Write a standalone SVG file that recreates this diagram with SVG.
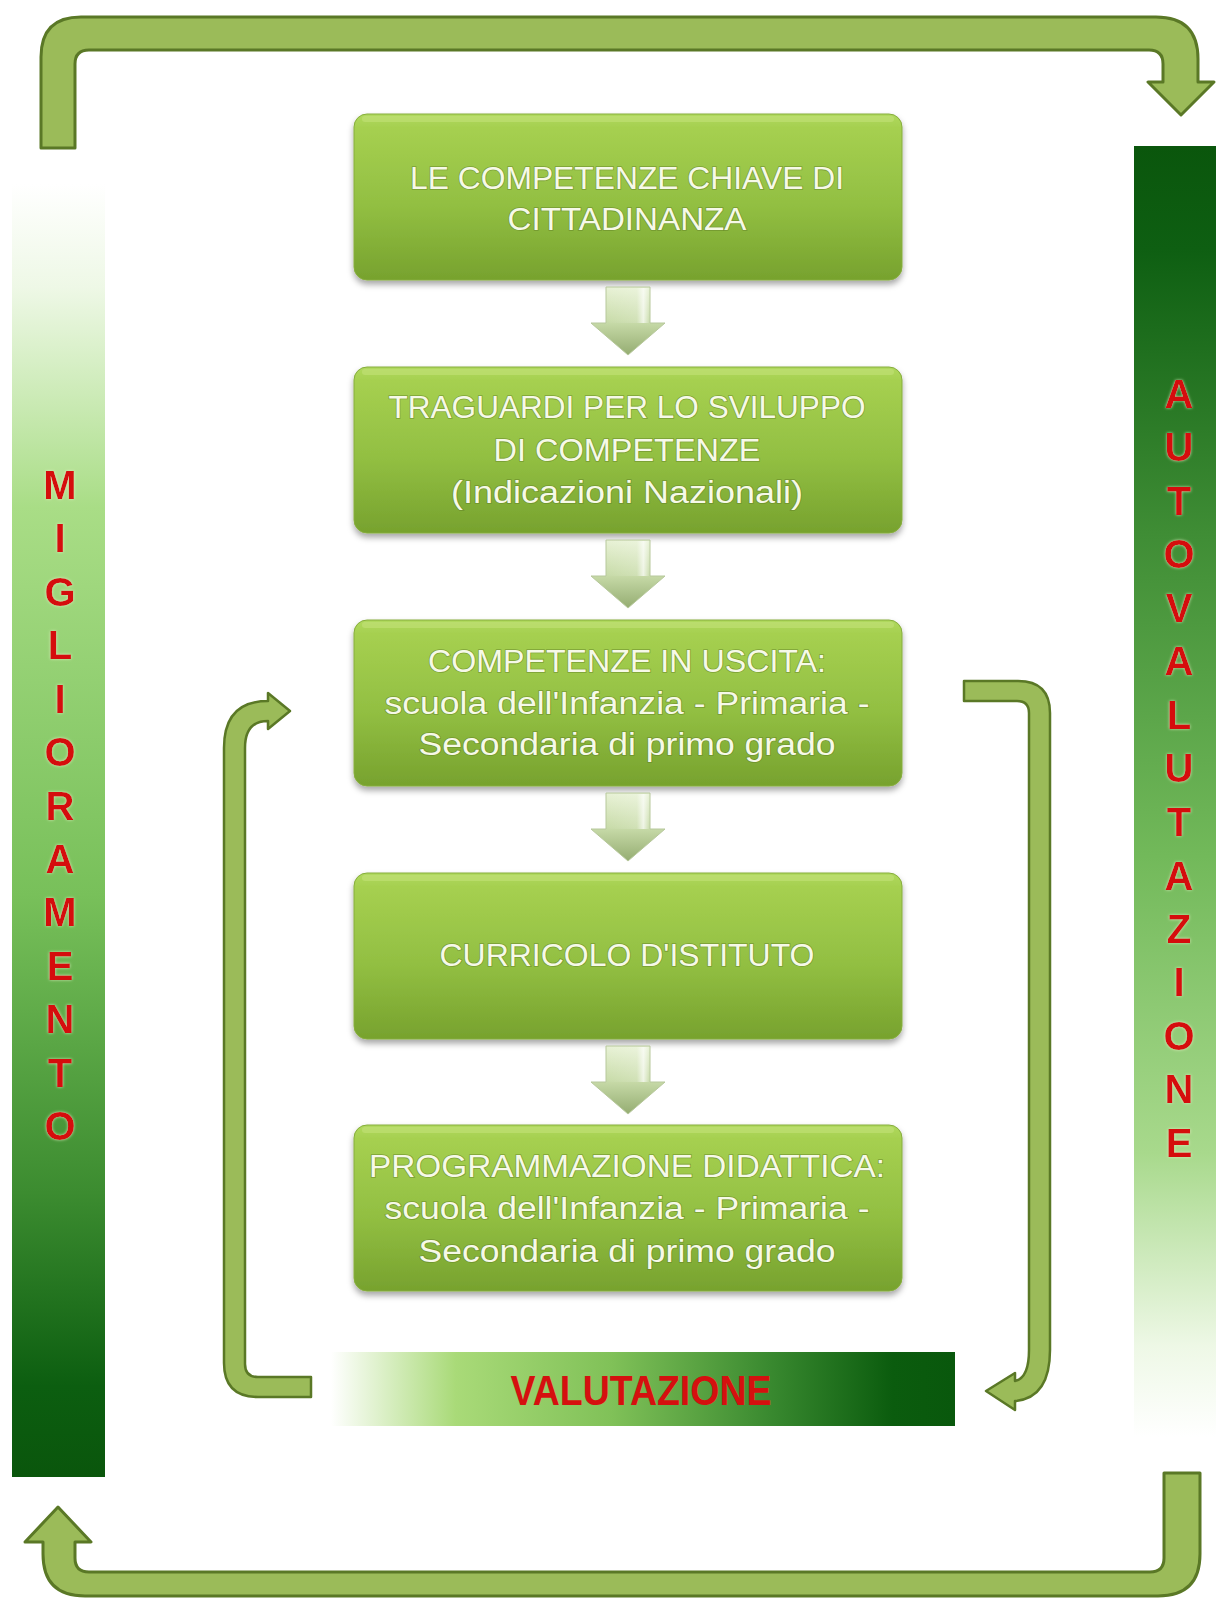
<svg xmlns="http://www.w3.org/2000/svg" width="1216" height="1598" viewBox="0 0 1216 1598">
  <defs>
    <linearGradient id="boxFill" x1="0" y1="0" x2="0" y2="1">
      <stop offset="0" stop-color="#b0d95e"/>
      <stop offset="0.08" stop-color="#a6d050"/>
      <stop offset="0.55" stop-color="#92bf42"/>
      <stop offset="1" stop-color="#77a22e"/>
    </linearGradient>
    <linearGradient id="stepFill" x1="0" y1="0" x2="0" y2="1">
      <stop offset="0" stop-color="#e8f2d6"/>
      <stop offset="0.5" stop-color="#c9dcaa"/>
      <stop offset="1" stop-color="#95ad72"/>
    </linearGradient>
    <linearGradient id="stepShine" x1="0" y1="0" x2="1" y2="0">
      <stop offset="0" stop-color="#ffffff" stop-opacity="0"/>
      <stop offset="0.7" stop-color="#ffffff" stop-opacity="0.15"/>
      <stop offset="0.85" stop-color="#ffffff" stop-opacity="0.7"/>
      <stop offset="1" stop-color="#ffffff" stop-opacity="0"/>
    </linearGradient>
    <linearGradient id="barLeft" x1="0" y1="0" x2="0" y2="1">
      <stop offset="0" stop-color="#ffffff"/>
      <stop offset="0.08" stop-color="#eef8e6"/>
      <stop offset="0.25" stop-color="#a9dd86"/>
      <stop offset="0.55" stop-color="#78c05a"/>
      <stop offset="0.78" stop-color="#3c8c30"/>
      <stop offset="0.93" stop-color="#0c5e10"/>
      <stop offset="1" stop-color="#0a560c"/>
    </linearGradient>
    <linearGradient id="barRight" x1="0" y1="0" x2="0" y2="1">
      <stop offset="0" stop-color="#0a560c"/>
      <stop offset="0.08" stop-color="#0e5f12"/>
      <stop offset="0.3" stop-color="#3f8d35"/>
      <stop offset="0.55" stop-color="#72b95a"/>
      <stop offset="0.78" stop-color="#a8d98c"/>
      <stop offset="0.93" stop-color="#eef8e6"/>
      <stop offset="1" stop-color="#ffffff"/>
    </linearGradient>
    <linearGradient id="barEval" x1="0" y1="0" x2="1" y2="0">
      <stop offset="0" stop-color="#ffffff"/>
      <stop offset="0.2" stop-color="#a9da78"/>
      <stop offset="0.45" stop-color="#80c158"/>
      <stop offset="0.7" stop-color="#3a8a30"/>
      <stop offset="0.9" stop-color="#0b5c0e"/>
      <stop offset="1" stop-color="#09580c"/>
    </linearGradient>
    <filter id="shadow" x="-5%" y="-10%" width="110%" height="125%">
      <feDropShadow dx="0" dy="4" stdDeviation="3" flood-color="#000" flood-opacity="0.35"/>
    </filter>
    <filter id="glow" x="-30%" y="-30%" width="160%" height="160%">
      <feDropShadow dx="0" dy="0" stdDeviation="1.5" flood-color="#e8f2c8" flood-opacity="0.8"/>
    </filter>
    <path id="step" d="M-22,0 L22,0 L22,36 L37,36 L0,68 L-37,36 L-22,36 Z"/>
  </defs>
  <style>
    .box { fill: url(#boxFill); stroke: #86ad3c; stroke-width: 1; filter: url(#shadow); }
    .hl { fill: #c4e27c; opacity: 0.55; }
    .lbl { font-family: "Liberation Sans", Arial, sans-serif; font-size: 31px; fill: #f6f9e8; text-anchor: middle; stroke: #5f7d25; stroke-width: 1.6; stroke-opacity: 0.55; paint-order: stroke; }
    .loop { fill: #9bbb59; stroke: #5a7826; stroke-width: 3; stroke-linejoin: round; }
    .loopThin { fill: #9bbb59; stroke: #5a7826; stroke-width: 2.5; stroke-linejoin: round; }
    .vert { font-family: "Liberation Sans", Arial, sans-serif; font-weight: bold; font-size: 40px; fill: #d5100f; text-anchor: middle; }
    .evalTxt { font-family: "Liberation Sans", Arial, sans-serif; font-weight: bold; font-size: 42px; fill: #d5100f; text-anchor: middle; }
    .stepA { fill: url(#stepFill); stroke: #b7c89c; stroke-width: 1; }
  </style>

  <rect x="0" y="0" width="1216" height="1598" fill="#ffffff"/>

  <!-- side bars -->
  <g id="miglioramento">
    <rect x="12" y="184" width="93" height="1293" fill="url(#barLeft)"/>
    <g class="vert" filter="url(#glow)">
      <text x="60" y="499">M</text>
      <text x="60" y="552">I</text>
      <text x="60" y="606">G</text>
      <text x="60" y="659">L</text>
      <text x="60" y="713">I</text>
      <text x="60" y="766">O</text>
      <text x="60" y="820">R</text>
      <text x="60" y="873">A</text>
      <text x="60" y="926">M</text>
      <text x="60" y="980">E</text>
      <text x="60" y="1033">N</text>
      <text x="60" y="1087">T</text>
      <text x="60" y="1140">O</text>
    </g>
  </g>

  <g id="autovalutazione">
    <rect x="1134" y="146" width="82" height="1291" fill="url(#barRight)"/>
    <g class="vert" filter="url(#glow)">
      <text x="1179" y="408">A</text>
      <text x="1179" y="461">U</text>
      <text x="1179" y="515">T</text>
      <text x="1179" y="568">O</text>
      <text x="1179" y="622">V</text>
      <text x="1179" y="675">A</text>
      <text x="1179" y="729">L</text>
      <text x="1179" y="782">U</text>
      <text x="1179" y="836">T</text>
      <text x="1179" y="890">A</text>
      <text x="1179" y="943">Z</text>
      <text x="1179" y="996">I</text>
      <text x="1179" y="1050">O</text>
      <text x="1179" y="1103">N</text>
      <text x="1179" y="1157">E</text>
    </g>
  </g>

  <g id="valutazione">
    <rect x="331" y="1352" width="624" height="74" fill="url(#barEval)"/>
    <text class="evalTxt" x="641" y="1405" textLength="261" lengthAdjust="spacingAndGlyphs">VALUTAZIONE</text>
  </g>

  <!-- flow boxes -->
  <g id="box-competenze-chiave">
    <rect class="box" x="354" y="114" width="548" height="166" rx="13"/>
    <rect class="hl" x="362" y="116" width="532" height="6" rx="3"/>
    <text class="lbl" x="627" y="189" textLength="434" lengthAdjust="spacingAndGlyphs">LE COMPETENZE CHIAVE DI</text>
    <text class="lbl" x="627" y="230" textLength="239" lengthAdjust="spacingAndGlyphs">CITTADINANZA</text>
  </g>

  <g id="box-traguardi">
    <rect class="box" x="354" y="367" width="548" height="166" rx="13"/>
    <rect class="hl" x="362" y="369" width="532" height="6" rx="3"/>
    <text class="lbl" x="627" y="418" textLength="477" lengthAdjust="spacingAndGlyphs">TRAGUARDI PER LO SVILUPPO</text>
    <text class="lbl" x="627" y="461" textLength="267" lengthAdjust="spacingAndGlyphs">DI COMPETENZE</text>
    <text class="lbl" x="627" y="503" textLength="352" lengthAdjust="spacingAndGlyphs">(Indicazioni Nazionali)</text>
  </g>

  <g id="box-competenze-uscita">
    <rect class="box" x="354" y="620" width="548" height="166" rx="13"/>
    <rect class="hl" x="362" y="622" width="532" height="6" rx="3"/>
    <text class="lbl" x="627" y="672" textLength="398" lengthAdjust="spacingAndGlyphs">COMPETENZE IN USCITA:</text>
    <text class="lbl" x="627" y="714" textLength="485" lengthAdjust="spacingAndGlyphs">scuola dell'Infanzia - Primaria -</text>
    <text class="lbl" x="627" y="755" textLength="417" lengthAdjust="spacingAndGlyphs">Secondaria di primo grado</text>
  </g>

  <g id="box-curricolo">
    <rect class="box" x="354" y="873" width="548" height="166" rx="13"/>
    <rect class="hl" x="362" y="875" width="532" height="6" rx="3"/>
    <text class="lbl" x="627" y="966" textLength="375" lengthAdjust="spacingAndGlyphs">CURRICOLO D'ISTITUTO</text>
  </g>

  <g id="box-programmazione">
    <rect class="box" x="354" y="1125" width="548" height="166" rx="13"/>
    <rect class="hl" x="362" y="1127" width="532" height="6" rx="3"/>
    <text class="lbl" x="627" y="1177" textLength="516" lengthAdjust="spacingAndGlyphs">PROGRAMMAZIONE DIDATTICA:</text>
    <text class="lbl" x="627" y="1219" textLength="485" lengthAdjust="spacingAndGlyphs">scuola dell'Infanzia - Primaria -</text>
    <text class="lbl" x="627" y="1262" textLength="417" lengthAdjust="spacingAndGlyphs">Secondaria di primo grado</text>
  </g>

  <!-- connectors -->
  <g id="connectors">
    <!-- step arrows between boxes -->
    <g class="stepA">
      <use href="#step" x="628" y="287"/>
      <use href="#step" x="628" y="540"/>
      <use href="#step" x="628" y="793"/>
      <use href="#step" x="628" y="1046"/>
    </g>
    <g fill="url(#stepShine)">
      <rect x="606" y="288" width="44" height="35"/>
      <rect x="606" y="541" width="44" height="35"/>
      <rect x="606" y="794" width="44" height="35"/>
      <rect x="606" y="1047" width="44" height="35"/>
    </g>

    <!-- outer cycle: top -->
    <path class="loop" d="M41,148 L41,57 Q41,17 81,17 L1156,17 Q1198,17 1198,59 L1198,82 L1214,82 L1181,115 L1148,82 L1163,82 L1163,64 Q1163,50 1149,50 L89,50 Q75,50 75,64 L75,148 Z"/>
    <!-- outer cycle: bottom -->
    <path class="loop" d="M1200,1473 L1200,1554 Q1200,1596 1158,1596 L85,1596 Q43,1596 43,1554 L43,1542 L25,1542 L58,1507 L91,1542 L75,1542 L75,1558 Q75,1572 89,1572 L1150,1572 Q1164,1572 1164,1558 L1164,1473 Z"/>

    <!-- inner loop: valutazione back to competenze in uscita -->
    <path class="loopThin" d="M311,1377 L258,1377 Q245,1377 245,1364 L245,748 Q245,721 268,721 L268,729 L290,711 L268,693 L268,701 Q224,701 224,748 L224,1363 Q224,1397 258,1397 L311,1397 Z"/>
    <!-- inner loop: competenze in uscita down to valutazione -->
    <path class="loopThin" d="M964,681 L1018,681 Q1050,681 1050,713 L1050,1350 Q1050,1398 1015,1401 L1015,1410 L986,1391 L1015,1373 L1015,1381 Q1029,1378 1029,1350 L1029,713 Q1029,701 1017,701 L964,701 Z"/>
  </g>
</svg>
